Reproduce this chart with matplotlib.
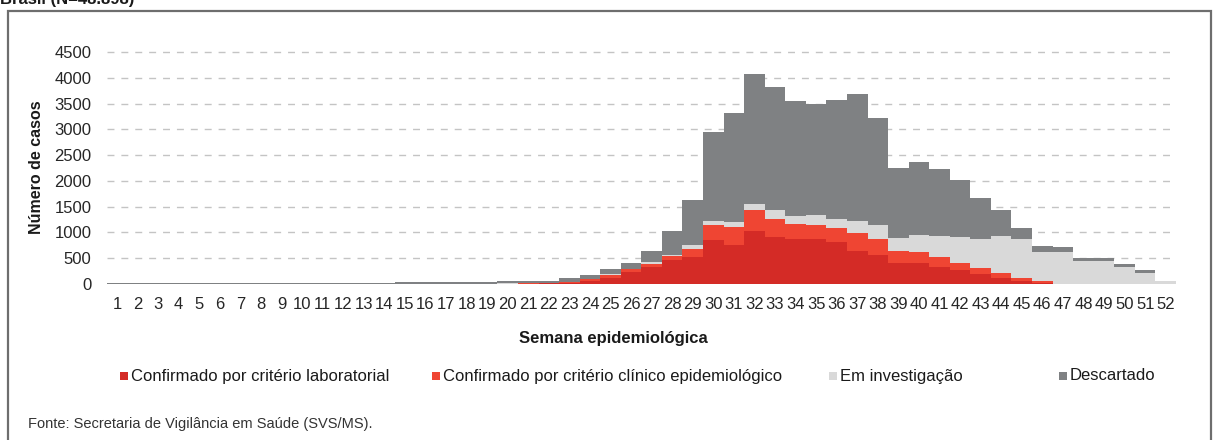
import numpy as np
import matplotlib
matplotlib.use('Agg')
import matplotlib.pyplot as plt
from matplotlib.patches import Rectangle

plt.rcParams['font.family'] = ['Liberation Sans', 'DejaVu Sans']

# semanas epidemiologicas 1..52
weeks = list(range(1, 53))
week_labels = [str(w) for w in weeks]

# cumulative tops (lab, lab+clinico, +investigacao, total)
lab_top = [0] * 19 + [5, 8, 10, 25, 58, 110, 238, 330, 463, 528, 850, 753,
                      1023, 914, 882, 869, 817, 643, 560, 412, 399, 335, 270,
                      187, 110, 64, 20, 0, 0, 0, 0, 0, 0]
clin_top = [0] * 19 + [8, 12, 15, 40, 97, 174, 290, 386, 540, 670, 1139, 1107,
                       1429, 1255, 1159, 1153, 1087, 998, 882, 643, 612, 528,
                       412, 303, 206, 122, 64, 0, 0, 0, 0, 0, 0]
inv_top = [0] * 19 + [10, 15, 20, 45, 105, 185, 300, 419, 560, 766, 1223, 1197,
                      1545, 1429, 1313, 1346, 1255, 1217, 1150, 901, 959, 933,
                      907, 882, 933, 882, 624, 612, 444, 444, 322, 206, 64]
total = [20] * 14 + [30, 30, 30, 30, 40] + [64, 64, 64, 122, 174, 300, 415, 643,
                                            1023, 1635, 2954, 3308, 4068, 3830,
                                            3540, 3482, 3566, 3682, 3219, 2253,
                                            2369, 2221, 2021, 1674, 1442, 1081,
                                            734, 708, 502, 502, 386, 270, 64]

lab = np.array(lab_top)
clin = np.array(clin_top) - lab
inv = np.array(inv_top) - np.array(clin_top)
desc = np.array(total) - np.array(inv_top)

series = ['Confirmado por critério laboratorial',
          'Confirmado por critério clínico epidemiológico',
          'Em investigação', 'Descartado']
colors = ['#D42B26', '#EF4533', '#D9D9D9', '#7F8183']

W, H = 1213, 440
fig = plt.figure(figsize=(W / 100, H / 100), dpi=100)
ax = fig.add_axes([106.7 / W, 1 - 284 / H, (1176 - 106.7) / W, (284 - 52) / H])

ax.axhline(0, color='#9A9A9A', lw=1.2, zorder=1)
bottom = np.zeros(len(weeks))
for vals, c in zip([lab, clin, inv, desc], colors):
    ax.bar(weeks, vals, width=1.0, bottom=bottom, color=c, linewidth=0, zorder=2)
    bottom += vals

ax.set_xlim(0.5, 52.5)
ax.set_ylim(0, 4500)
ax.set_yticks(range(0, 4501, 500))
ax.set_xticks(weeks)
ax.set_xticklabels(week_labels)
ax.tick_params(axis='both', length=0, labelsize=12, colors='#262626')
ax.tick_params(axis='x', pad=9)
ax.tick_params(axis='y', pad=11)
for s in ax.spines.values():
    s.set_visible(False)
for v in range(500, 4501, 500):
    ax.axhline(v, color='#C4C4C4', lw=1, ls=(0, (5, 5)), zorder=1, clip_on=False)

fig.text(37 / W, 1 - 167 / H, 'Número de casos', rotation=90, ha='center',
         va='center', fontsize=11.5, fontweight='bold', color='#1A1A1A')
fig.text(613 / W, 1 - 338 / H, 'Semana epidemiológica', ha='center',
         va='center', fontsize=12, fontweight='bold', color='#1A1A1A')

# legend laid out by hand, like the original
leg_x = [124, 436, 833, 1063]
for x, lbl, c in zip(leg_x, series, colors):
    fig.add_artist(Rectangle(((x - 4) / W, 1 - 380 / H), 8 / W, 8 / H,
                             transform=fig.transFigure, color=c, lw=0))
    fig.text((x + 7) / W, 1 - 376 / H, lbl, ha='left', va='center',
             fontsize=12, color='#1A1A1A')

fig.text(28 / W, 1 - 424 / H, 'Fonte: Secretaria de Vigilância em Saúde (SVS/MS).',
         ha='left', va='center', fontsize=10.5, color='#333333')

fig.text(0, 1 - 4 / H, 'Brasil (N=48.898)', ha='left', va='baseline',
         fontsize=12, fontweight='bold', color='#1A1A1A')

# outer frame
fig.add_artist(Rectangle((8 / W, -0.1), (1211 - 8) / W, 1.1 - 11 / H,
                         transform=fig.transFigure, fill=False,
                         edgecolor='#6E6E6E', lw=1.6))

fig.savefig('out.png', dpi=100)
